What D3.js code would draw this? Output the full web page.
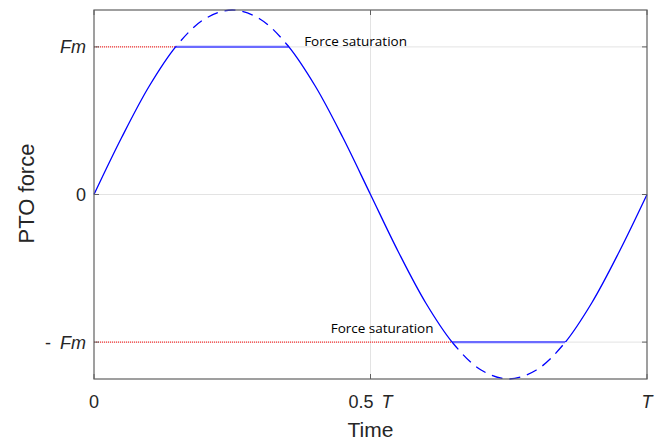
<!DOCTYPE html>
<html>
<head>
<meta charset="utf-8">
<script src="https://cdn.jsdelivr.net/npm/d3@7"></script>
<style>
  body { margin: 0; background: #fff; }
  text { font-family: "Liberation Sans", Arial, sans-serif; }
</style>
</head>
<body>
<div id="chart"></div>
<script>
// Data (time in periods T, force in units of Fm)
const time = [0, 0.05, 0.1, 0.15, 0.2, 0.25, 0.3, 0.35, 0.4, 0.45, 0.5,
              0.55, 0.6, 0.65, 0.7, 0.75, 0.8, 0.85, 0.9, 0.95, 1];
const force = [0, 0.386, 0.735, 1.011, 1.189, 1.25, 1.189, 1.011, 0.735, 0.386, 0,
               -0.386, -0.735, -1.011, -1.189, -1.25, -1.189, -1.011, -0.735, -0.386, 0];
const satLevel = [1, -1];
const satStart = [0.148, 0.648];
const satEnd = [0.352, 0.852];
const labelTime = [0.38, 0.428];
const yTicks = [-1, 0, 1];
const xTicks = [0, 0.5, 1];

const width = 667, height = 442;
const margin = {left: 94, right: 20, top: 10, bottom: 63};

const svg = d3.select("#chart").append("svg")
  .attr("width", width)
  .attr("height", height);

const x = d3.scaleLinear().domain([0, 1]).range([margin.left, width - margin.right]);
const y = d3.scaleLinear().domain([-1.25, 1.25]).range([height - margin.bottom, margin.top]);

// grid
svg.append("g").selectAll("line").data(yTicks).enter().append("line")
  .attr("x1", x(0)).attr("x2", x(1))
  .attr("y1", d => y(d)).attr("y2", d => y(d))
  .attr("stroke", "#e3e3e3").attr("stroke-width", 1);
svg.append("line")
  .attr("x1", x(0.5)).attr("x2", x(0.5))
  .attr("y1", y(1.25)).attr("y2", y(-1.25))
  .attr("stroke", "#e3e3e3").attr("stroke-width", 1);

// clip regions: inside / outside the saturation band
const defs = svg.append("defs");
defs.append("clipPath").attr("id", "inside").append("rect")
  .attr("x", 0).attr("y", y(1)).attr("width", width).attr("height", y(-1) - y(1));
const outside = defs.append("clipPath").attr("id", "outside");
outside.append("rect").attr("x", 0).attr("y", 0).attr("width", width).attr("height", y(1));
outside.append("rect").attr("x", 0).attr("y", y(-1)).attr("width", width).attr("height", height - y(-1));

const pts = time.map((t, i) => [t, force[i]]);
const sineLine = d3.line().x(d => x(d[0])).y(d => y(d[1])).curve(d3.curveCatmullRom.alpha(0.5));

// red dotted lines from axis to saturation start
svg.append("g").selectAll("line").data(satLevel).enter().append("line")
  .attr("x1", x(0)).attr("x2", (d, i) => x(satStart[i]))
  .attr("y1", d => y(d)).attr("y2", d => y(d))
  .attr("stroke", "#ff0000").attr("stroke-width", 1)
  .attr("stroke-dasharray", "1,1");

// saturated (flat) segments
svg.append("g").selectAll("line").data(satLevel).enter().append("line")
  .attr("x1", (d, i) => x(satStart[i])).attr("x2", (d, i) => x(satEnd[i]))
  .attr("y1", d => y(d)).attr("y2", d => y(d))
  .attr("stroke", "#6b6bff").attr("stroke-width", 2.2);

// sine within band (solid)
svg.append("path").datum(pts)
  .attr("d", sineLine)
  .attr("clip-path", "url(#inside)")
  .attr("fill", "none").attr("stroke", "#0000ff").attr("stroke-width", 1.3);

// sine beyond band (dashed)
svg.append("path").datum(pts)
  .attr("d", sineLine)
  .attr("clip-path", "url(#outside)")
  .attr("fill", "none").attr("stroke", "#0000ff").attr("stroke-width", 1.3)
  .attr("stroke-dasharray", "11,7")
  .attr("stroke-dashoffset", 3);

// box
svg.append("rect")
  .attr("x", x(0)).attr("y", y(1.25))
  .attr("width", x(1) - x(0)).attr("height", y(-1.25) - y(1.25))
  .attr("fill", "none").attr("stroke", "#606060").attr("stroke-width", 1.2);

// tick marks inside (left/bottom and mirrored right/top)
svg.append("g").selectAll("line").data(yTicks).enter().append("line")
  .attr("x1", x(0)).attr("x2", x(0) + 5)
  .attr("y1", d => y(d)).attr("y2", d => y(d))
  .attr("stroke", "#606060");
svg.append("g").selectAll("line").data(yTicks).enter().append("line")
  .attr("x1", x(1)).attr("x2", x(1) - 5)
  .attr("y1", d => y(d)).attr("y2", d => y(d))
  .attr("stroke", "#606060");
svg.append("g").selectAll("line").data(xTicks).enter().append("line")
  .attr("x1", d => x(d)).attr("x2", d => x(d))
  .attr("y1", y(-1.25)).attr("y2", y(-1.25) - 5)
  .attr("stroke", "#606060");
svg.append("g").selectAll("line").data(xTicks).enter().append("line")
  .attr("x1", d => x(d)).attr("x2", d => x(d))
  .attr("y1", y(1.25)).attr("y2", y(1.25) + 5)
  .attr("stroke", "#606060");

// y tick labels
const yLab = svg.append("g").attr("font-size", 18).attr("fill", "#262626");
yLab.append("text").attr("x", x(0) - 8).attr("y", y(1) + 6.5)
  .attr("text-anchor", "end").attr("fill", "#262626")
  .append("tspan").attr("font-style", "italic").text("Fm");
yLab.append("text").attr("x", x(0) - 8).attr("y", y(0) + 6.5)
  .attr("text-anchor", "end").attr("fill", "#262626").text("0");
const neg = yLab.append("text").attr("x", x(0) - 8).attr("y", y(-1) + 6.5)
  .attr("text-anchor", "end").attr("fill", "#262626");
neg.append("tspan").text("-");
neg.append("tspan").attr("dx", 9).attr("font-style", "italic").text("Fm");

// x tick labels
const xLab = svg.append("g").attr("font-size", 18).attr("fill", "#262626");
xLab.append("text").attr("x", x(0)).attr("y", 408).attr("text-anchor", "middle").text("0");
const half = xLab.append("text").attr("x", x(0.5)).attr("y", 408).attr("text-anchor", "middle");
half.append("tspan").text("0.5");
half.append("tspan").attr("dx", 8).attr("font-style", "italic").text("T");
xLab.append("text").attr("x", x(1)).attr("y", 408).attr("text-anchor", "middle")
  .attr("font-style", "italic").text("T");

// axis titles
svg.append("text").attr("x", x(0.5)).attr("y", 437)
  .attr("text-anchor", "middle").attr("font-size", 21).attr("fill", "#262626").text("Time");
svg.append("text")
  .attr("transform", `translate(34, ${y(0) - 1}) rotate(-90)`)
  .attr("text-anchor", "middle").attr("font-size", 22).attr("fill", "#262626").text("PTO force");

// annotations
svg.append("g").selectAll("text").data(satLevel).enter().append("text")
  .attr("x", (d, i) => x(labelTime[i]))
  .attr("y", d => d > 0 ? y(d) - 1 : y(d) - 9)
  .style("font-family", "'Open Sans', sans-serif")
  .style("font-size", "13.5px").attr("fill", "#000")
  .text("Force saturation");
</script>
</body>
</html>
